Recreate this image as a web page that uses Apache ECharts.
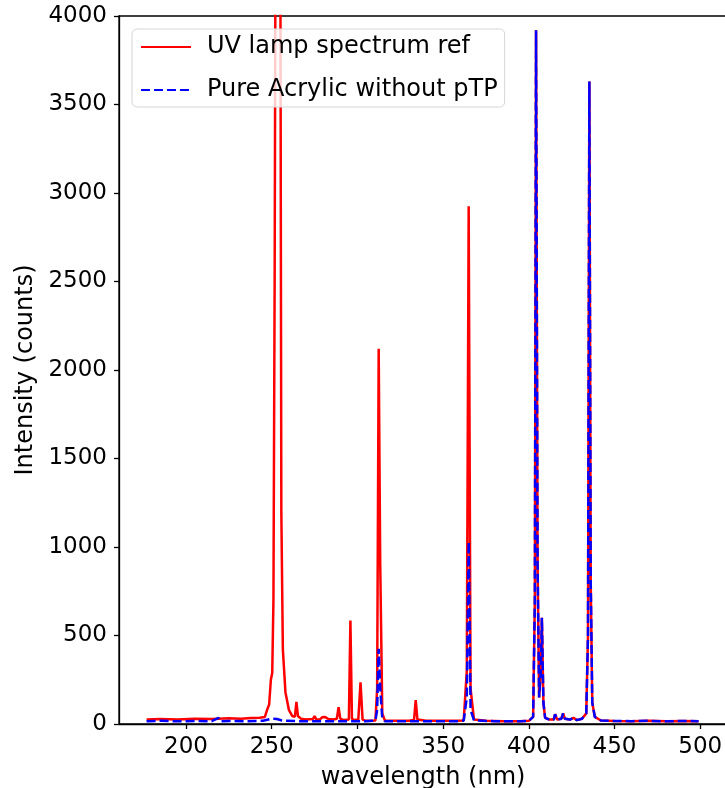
<!DOCTYPE html>
<html>
<head>
<meta charset="utf-8">
<script src="https://cdn.jsdelivr.net/npm/echarts@6/dist/echarts.min.js"></script>
<style>html,body{margin:0;padding:0;background:#fff}#c{width:725px;height:788px}</style>
</head>
<body>
<div id="c"></div>
<script>
// Wavelength ticks
var xTicks = [200, 250, 300, 350, 400, 450, 500];

// UV lamp spectrum ref (red)
var refWl = [177, 185, 195, 205, 215, 219, 225, 232, 238, 243, 246, 247.5, 248.5, 249.5, 250.3, 251, 251.7, 252.4, 253.7, 254.9, 255.6, 256.5, 258, 260, 262, 263.5, 264.4, 265.3, 267, 270, 274, 275, 276, 278, 279.5, 281, 283, 286, 288, 289, 290, 292, 295, 295.9, 296.8, 298, 300.5, 301.8, 303, 305, 308, 310.5, 311.5, 312.4, 313.3, 314.5, 316, 320, 325, 330, 333, 334, 335, 340, 350, 358, 362, 363.8, 364.9, 366, 368, 375, 385, 395, 400, 402.5, 403.5, 404.2, 405.1, 406, 407.0, 407.6, 408.5, 409.5, 412, 414.5, 415.3, 416.5, 419, 420, 421, 424, 426, 428, 431, 433.5, 434.5, 435.3, 436.1, 437, 438.5, 442, 450, 460, 470, 480, 490, 499];
var refI  = [25, 28, 26, 30, 28, 30, 32, 30, 34, 35, 40, 85, 110, 250, 290, 700, 2500, 5200, 6500, 5200, 1200, 420, 180, 80, 45, 40, 125, 45, 30, 25, 28, 45, 26, 25, 38, 40, 28, 25, 30, 95, 30, 22, 25, 585, 30, 22, 25, 235, 25, 18, 18, 20, 200, 2120, 900, 60, 20, 18, 18, 18, 22, 135, 25, 18, 18, 18, 20, 300, 2925, 200, 25, 18, 16, 16, 18, 40, 700, 3920, 900, 150, 300, 600, 120, 35, 25, 25, 55, 25, 30, 60, 30, 25, 35, 22, 30, 60, 500, 3630, 800, 120, 40, 20, 17, 16, 18, 15, 17, 16];

// Pure Acrylic without pTP (blue dashed)
var acrWl = [177, 185, 195, 205, 215, 219, 220, 225, 235, 245, 250, 253, 256, 265, 280, 295, 305, 310.5, 311.5, 312.4, 313.3, 314.5, 316, 330, 345, 358, 362, 363.8, 364.9, 366, 368, 380, 395, 400, 402.5, 403.5, 404.2, 405.1, 406, 407.0, 407.6, 408.5, 409.5, 412, 414.5, 415.3, 416.5, 419, 420, 421, 424, 426, 428, 431, 433.5, 434.5, 435.3, 436.1, 437, 438.5, 442, 450, 460, 470, 480, 490, 499];
var acrI  = [15, 18, 15, 17, 16, 35, 15, 17, 16, 18, 30, 28, 20, 16, 15, 16, 15, 20, 80, 425, 200, 30, 16, 15, 16, 15, 20, 150, 1030, 80, 20, 16, 16, 18, 40, 700, 3920, 900, 150, 300, 600, 120, 35, 25, 25, 55, 25, 30, 60, 30, 25, 35, 22, 30, 60, 500, 3630, 800, 120, 40, 20, 17, 16, 18, 15, 17, 16];

function pairs(xs, ys) { return xs.map(function (x, i) { return [x, ys[i]]; }); }

var chart = echarts.init(document.getElementById('c'), null, { renderer: 'canvas' });
var font = 'DejaVu Sans';
chart.setOption({
  animation: false,
  backgroundColor: '#fff',
  grid: { left: 119, right: -2, top: 16, bottom: 64, outerBoundsMode: 'none', containLabel: false, show: true, borderColor: '#000', borderWidth: 1.3, backgroundColor: 'transparent' },
  legend: {
    orient: 'vertical', left: 132, top: 29,
    itemWidth: 50, itemHeight: 14, itemGap: 19,
    padding: [6, 7, 5, 8],
    backgroundColor: 'rgba(255,255,255,0.8)', borderColor: '#d6d6d6', borderWidth: 1, borderRadius: 5,
    itemStyle: { color: 'transparent', borderColor: 'transparent', borderWidth: 0 },
    textStyle: { fontFamily: font, fontSize: 24, color: '#000', padding: [0, 0, 0, 11] },
    data: ['UV lamp spectrum ref', 'Pure Acrylic without pTP']
  },
  xAxis: {
    type: 'value', min: 160.9, max: 515.6,
    name: 'wavelength (nm)', nameLocation: 'middle', nameGap: 42,
    nameTextStyle: { fontFamily: font, fontSize: 24, color: '#000' },
    axisLine: { show: true, onZero: false, lineStyle: { color: '#000', width: 1.3 } },
    axisTick: { show: true, inside: false, length: 5, customValues: xTicks, lineStyle: { color: '#000', width: 1.3 } },
    axisLabel: { customValues: xTicks, margin: 12, fontFamily: font, fontSize: 23, color: '#000' },
    splitLine: { show: false }
  },
  yAxis: {
    type: 'value', min: 0, max: 4000, interval: 500,
    name: 'Intensity (counts)', nameLocation: 'middle', nameGap: 76, nameRotate: 90,
    nameTextStyle: { fontFamily: font, fontSize: 24, color: '#000' },
    axisLine: { show: true, lineStyle: { color: '#000', width: 1.3 } },
    axisTick: { show: true, inside: false, length: 5, lineStyle: { color: '#000', width: 1.3 } },
    axisLabel: { margin: 12, fontFamily: font, fontSize: 23, color: '#000', formatter: function (v) { return String(v); } },
    splitLine: { show: false }
  },
  series: [
    {
      name: 'UV lamp spectrum ref', type: 'line', data: pairs(refWl, refI),
      showSymbol: false, symbol: 'none', clip: true,
      lineStyle: { color: '#ff0000', width: 2.5 }, itemStyle: { color: '#ff0000' }, z: 2
    },
    {
      name: 'Pure Acrylic without pTP', type: 'line', data: pairs(acrWl, acrI),
      showSymbol: false, symbol: 'none', clip: true,
      lineStyle: { color: '#0000ff', width: 2.5, type: [9, 4] }, itemStyle: { color: '#0000ff' }, z: 3
    }
  ]
});
</script>
</body>
</html>
